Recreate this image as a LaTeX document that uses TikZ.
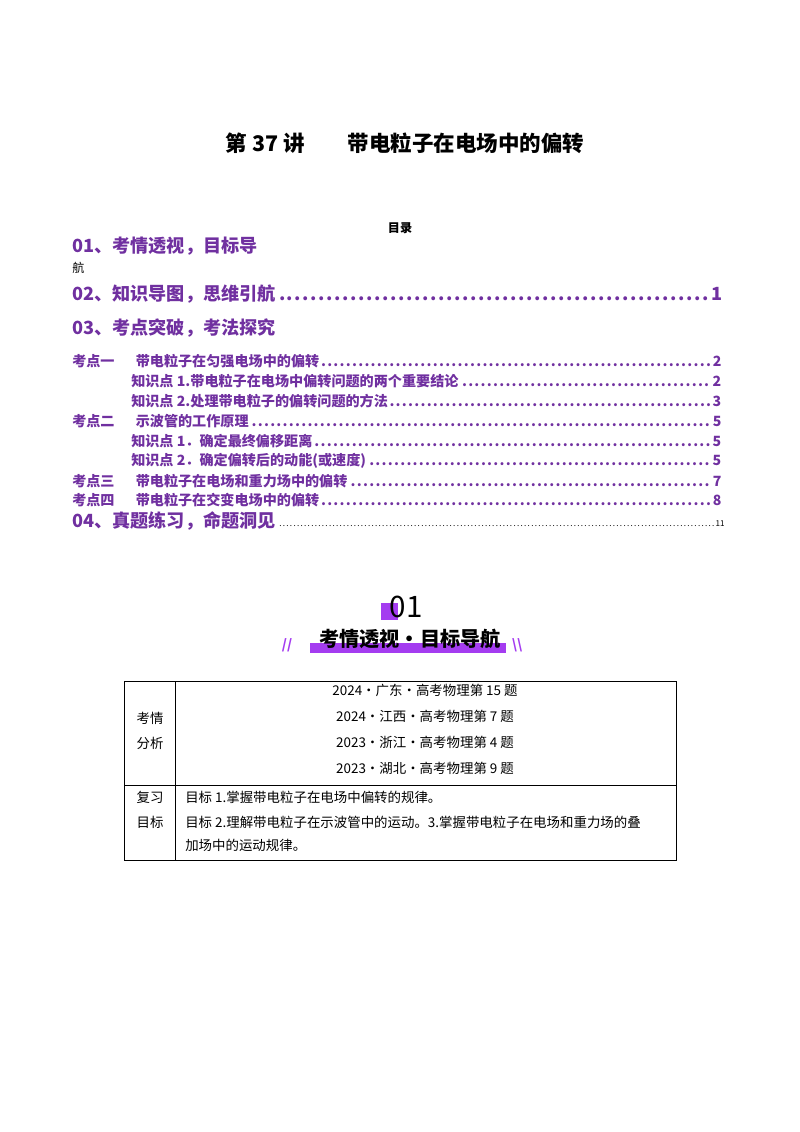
\documentclass[tikz,border=0pt]{standalone}
\usepackage{fontspec}
\setmainfont{Noto Sans CJK SC}
\definecolor{pur}{HTML}{7030A0}
\definecolor{bar}{HTML}{A43CF0}
\begin{document}
\begin{tikzpicture}[x=0.744pt,y=-0.744pt,
 big/.style={anchor=west,inner sep=0,text=pur,font=\fontsize{13.5}{15}\selectfont\bfseries},
 sm/.style={anchor=west,inner sep=0,text=pur,font=\fontsize{10.5}{12}\selectfont\bfseries},
 cell/.style={inner sep=0,font=\fontsize{10}{12}\selectfont}]
\useasboundingbox (0,0) rectangle (800,1132);
\node[inner sep=0,font=\fontsize{16}{18}\selectfont\bfseries] (t) at (405,143) {第 37 讲\hspace{2em}带电粒子在电场中的偏转};
\node[inner sep=0,font=\fontsize{9}{10}\selectfont\bfseries] (ml) at (400,228) {目录};
\node[big] (a1) at (72,246) {01、考情透视，目标导};
\node[anchor=west,inner sep=0,font=\fontsize{9}{10}\selectfont] (a1b) at (72,268) {航};
\node[big] (a2) at (72,294) {\makebox[484pt][l]{02、知识导图，思维引航\dotfill 1}};
\node[big] (a3) at (72,328) {03、考点突破，考法探究};
\node[sm] (b1) at (72,361) {\makebox[483pt][l]{考点一\hspace{1.5em}带电粒子在匀强电场中的偏转\dotfill 2}};
\node[sm] (c1) at (131,381) {\makebox[439pt][l]{知识点 1.带电粒子在电场中偏转问题的两个重要结论\dotfill 2}};
\node[sm] (c2) at (131,401) {\makebox[439pt][l]{知识点 2.处理带电粒子的偏转问题的方法\dotfill 3}};
\node[sm] (b2) at (72,421) {\makebox[483pt][l]{考点二\hspace{1.5em}示波管的工作原理\dotfill 5}};
\node[sm] (c3) at (131,441) {\makebox[439pt][l]{知识点 1．确定最终偏移距离\dotfill 5}};
\node[sm] (c4) at (131,461) {\makebox[439pt][l]{知识点 2．确定偏转后的动能(或速度)\dotfill 5}};
\node[sm] (b3) at (72,481) {\makebox[483pt][l]{考点三\hspace{1.5em}带电粒子在电场和重力场中的偏转\dotfill 7}};
\node[sm] (b4) at (72,500) {\makebox[483pt][l]{考点四\hspace{1.5em}带电粒子在交变电场中的偏转\dotfill 8}};
\node[big] (a4) at (72,521) {04、真题练习，命题洞见};
\node[anchor=west,inner sep=0,font=\fontsize{6}{7}\selectfont] (a4d) at (278,524) {\makebox[332pt][l]{\dotfill 11}};
% header
\fill[bar] (381,603) rectangle (398,620);
\node[inner sep=0,font=\fontsize{22}{24}\selectfont] (n01) at (406,607) {01};
\fill[bar] (310,643) rectangle (506,653);
\node[inner sep=0,font=\fontsize{15}{17}\selectfont\bfseries] (ht) at (410,639) {考情透视·目标导航};
\node[inner sep=0,text=bar,font=\fontsize{10}{11}\selectfont\bfseries\itshape] (s1) at (287,645) {//};
\node[inner sep=0,text=bar,font=\fontsize{10}{11}\selectfont\bfseries] (s2) at (517,645) {\textbackslash\textbackslash};
% table
\draw[line width=0.6pt] (124,681) rectangle (676,860) (175,681) -- (175,860) (124,785) -- (676,785);
\node[cell] (k1) at (150,718) {考情};
\node[cell] (k2) at (150,743) {分析};
\node[cell] (r1) at (425,690) {2024·广东·高考物理第 15 题};
\node[cell] (r2) at (425,716) {2024·江西·高考物理第 7 题};
\node[cell] (r3) at (425,742) {2023·浙江·高考物理第 4 题};
\node[cell] (r4) at (425,768) {2023·湖北·高考物理第 9 题};
\node[cell] (f1) at (150,797) {复习};
\node[cell] (f2) at (150,822) {目标};
\node[cell,anchor=west] (g1) at (185,797) {目标 1.掌握带电粒子在电场中偏转的规律。};
\node[cell,anchor=west] (g2) at (185,822) {目标 2.理解带电粒子在示波管中的运动。3.掌握带电粒子在电场和重力场的叠};
\node[cell,anchor=west] (g3) at (185,845) {加场中的运动规律。};
\end{tikzpicture}
\end{document}
